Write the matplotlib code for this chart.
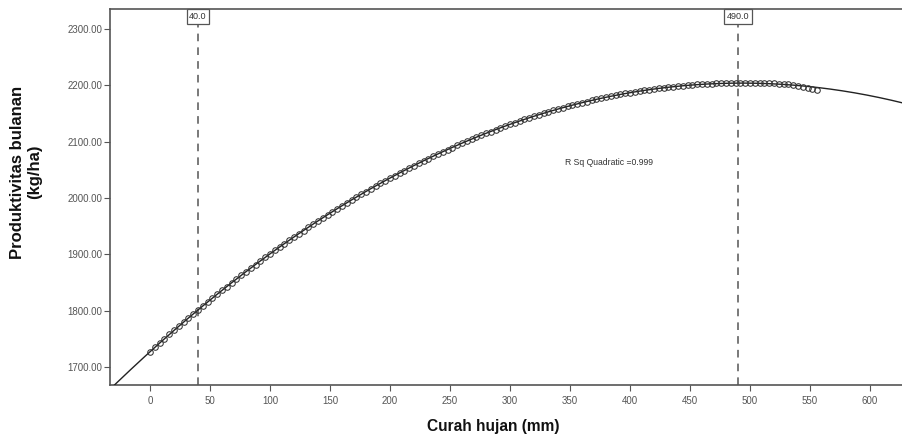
import numpy as np
import matplotlib
matplotlib.use("Agg")
import matplotlib.pyplot as plt

# Rainfall (mm) and monthly productivity (kg/ha)
curah_hujan = list(range(0, 560, 4))
produktivitas = [
    1727.0, 1734.7, 1742.3, 1749.9, 1757.4, 1764.8, 1772.2, 1779.5, 1786.8, 1794.0,
    1801.1, 1808.1, 1815.1, 1822.1, 1829.0, 1835.8, 1842.5, 1849.2, 1855.9, 1862.4,
    1868.9, 1875.4, 1881.7, 1888.1, 1894.3, 1900.5, 1906.6, 1912.7, 1918.7, 1924.6,
    1930.5, 1936.3, 1942.1, 1947.8, 1953.4, 1959.0, 1964.5, 1969.9, 1975.3, 1980.6,
    1985.9, 1991.1, 1996.2, 2001.3, 2006.3, 2011.2, 2016.1, 2020.9, 2025.7, 2030.4,
    2035.0, 2039.6, 2044.1, 2048.5, 2052.9, 2057.2, 2061.5, 2065.7, 2069.8, 2073.9,
    2077.9, 2081.8, 2085.7, 2089.5, 2093.3, 2097.0, 2100.6, 2104.2, 2107.7, 2111.1,
    2114.5, 2117.8, 2121.1, 2124.3, 2127.4, 2130.5, 2133.5, 2136.5, 2139.3, 2142.2,
    2144.9, 2147.6, 2150.3, 2152.8, 2155.3, 2157.8, 2160.2, 2162.5, 2164.7, 2166.9,
    2169.1, 2171.2, 2173.2, 2175.1, 2177.0, 2178.8, 2180.6, 2182.3, 2183.9, 2185.5,
    2187.0, 2188.4, 2189.8, 2191.2, 2192.4, 2193.6, 2194.8, 2195.8, 2196.8, 2197.8,
    2198.7, 2199.5, 2200.3, 2201.0, 2201.6, 2202.2, 2202.7, 2203.1, 2203.5, 2203.9,
    2204.1, 2204.3, 2204.5, 2204.5, 2204.5, 2204.5, 2204.4, 2204.2, 2204.0, 2203.7,
    2203.3, 2202.9, 2202.4, 2201.5, 2200.4, 2199.0, 2197.5, 2196.0, 2194.0, 2191.5,
]
ref_lines = [40.0, 490.0]
ref_labels = ["40.0", "490.0"]
x_ticks = [0, 50, 100, 150, 200, 250, 300, 350, 400, 450, 500, 550, 600]
y_ticks = [1700, 1800, 1900, 2000, 2100, 2200, 2300]
r2_text = "R Sq Quadratic =0.999"

W, H = 902, 437
fig = plt.figure(figsize=(W / 100, H / 100), dpi=100)
plt.rcParams["font.family"] = ["Liberation Sans", "DejaVu Sans"]

left, right, top, bottom = 110, 902, 9, 385
ax = fig.add_axes([left / W, 1 - bottom / H, (right - left) / W, (bottom - top) / H])

x = np.array(curah_hujan, dtype=float)
y = np.array(produktivitas, dtype=float)

ax.set_xlim(-33.3, 626.7)
ax.set_ylim(1667.7, 2335.5)

# quadratic fit
coef = np.polyfit(x, y, 2)
xf = np.linspace(-40, 640, 400)
ax.plot(xf, np.polyval(coef, xf), color="#222222", lw=1.0, zorder=3)

ax.plot(x, y, linestyle="none", marker="o", markersize=4.0, markerfacecolor="none",
        markeredgecolor="#333333", markeredgewidth=0.75, zorder=4)

for xv, lab in zip(ref_lines, ref_labels):
    ax.axvline(xv, color="#555555", lw=1.1, linestyle=(0, (5, 4)), zorder=2)
    ax.text(xv, 2322.5, lab, ha="center", va="center", fontsize=6.5, color="#333333",
            bbox=dict(boxstyle="square,pad=0.3", fc="white", ec="#555555", lw=0.9), zorder=5)

ax.text(346, 2062, r2_text, ha="left", va="center", fontsize=6.2, color="#333333")

ax.set_xticks(x_ticks)
ax.set_yticks(y_ticks)
ax.set_xticklabels([str(t) for t in x_ticks])
ax.set_yticklabels([f"{t:.2f}" for t in y_ticks])
ax.tick_params(axis="both", direction="out", length=4.5, width=0.8, colors="#555555",
               labelsize=7, labelcolor="#555555")
ax.tick_params(axis="x", pad=3.5)
ax.tick_params(axis="y", pad=1)

for s in ["left", "bottom", "top"]:
    ax.spines[s].set_color("#555555")
    ax.spines[s].set_linewidth(1.2)
ax.spines["right"].set_visible(False)

fig.text(493 / W, 1 - 427 / H, "Curah hujan (mm)", ha="center", va="center",
         fontsize=11.2, fontweight="bold", color="#111111")
fig.text(26 / W, 1 - 172 / H, "Produktivitas bulanan\n(kg/ha)", ha="center", va="center",
         rotation=90, fontsize=12, fontweight="bold", color="#111111", linespacing=1.2)

fig.savefig("out.png", dpi=100)
